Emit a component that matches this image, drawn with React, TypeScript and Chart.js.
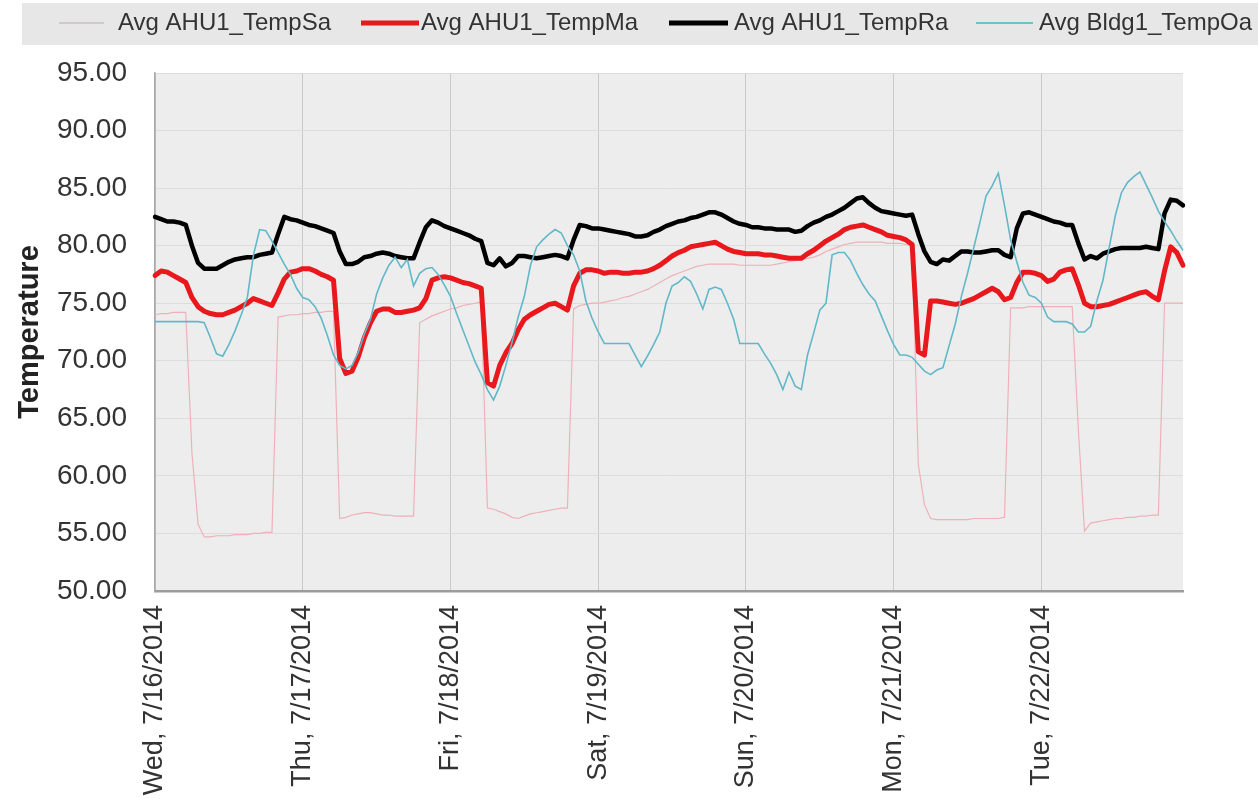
import React, { useEffect, useRef } from "react";
import { Chart, registerables } from "chart.js";

Chart.register(...registerables);

const DAY_LABELS = [
  "Wed, 7/16/2014",
  "Thu, 7/17/2014",
  "Fri, 7/18/2014",
  "Sat, 7/19/2014",
  "Sun, 7/20/2014",
  "Mon, 7/21/2014",
  "Tue, 7/22/2014",
];

const HOURS: string[] = [];
DAY_LABELS.forEach((d) => {
  for (let h = 0; h < 24; h++) HOURS.push(`${d} ${h}:00`);
});

const SERIES_NAMES = ["Avg AHU1_TempSa", "Avg AHU1_TempMa", "Avg AHU1_TempRa", "Avg Bldg1_TempOa"];

const TEMP_SA = [
  74.0, 74.1, 74.1, 74.2, 74.2, 74.2, 62.0, 55.8, 54.7, 54.7, 54.8, 54.8, 54.8, 54.9, 54.9, 54.9, 55.0, 55.0, 55.1, 55.1, 73.8, 73.9, 74.0, 74.0,
  74.1, 74.1, 74.2, 74.2, 74.3, 74.3, 56.3, 56.4, 56.6, 56.7, 56.8, 56.8, 56.7, 56.6, 56.6, 56.5, 56.5, 56.5, 56.5, 73.3, 73.6, 73.9, 74.1, 74.3,
  74.5, 74.6, 74.8, 74.9, 75.0, 75.1, 57.2, 57.1, 56.9, 56.7, 56.4, 56.3, 56.5, 56.7, 56.8, 56.9, 57.0, 57.1, 57.2, 57.2, 74.5, 74.8, 74.9, 75.0,
  75.0, 75.1, 75.2, 75.3, 75.5, 75.6, 75.8, 76.0, 76.2, 76.5, 76.8, 77.1, 77.4, 77.6, 77.8, 78.0, 78.2, 78.3, 78.4, 78.4, 78.4, 78.4, 78.4, 78.3,
  78.3, 78.3, 78.3, 78.3, 78.3, 78.4, 78.5, 78.6, 78.7, 78.8, 78.9, 79.0, 79.2, 79.5, 79.7, 79.9, 80.1, 80.2, 80.3, 80.3, 80.3, 80.3, 80.3, 80.2,
  80.2, 80.2, 80.1, 80.0, 61.0, 57.5, 56.3, 56.2, 56.2, 56.2, 56.2, 56.2, 56.2, 56.3, 56.3, 56.3, 56.3, 56.3, 56.4, 74.6, 74.6, 74.6, 74.7, 74.7,
  74.7, 74.7, 74.7, 74.7, 74.7, 74.7, 64.0, 55.2, 55.9, 56.0, 56.1, 56.2, 56.3, 56.3, 56.4, 56.4, 56.5, 56.5, 56.6, 56.6, 75.0, 75.0, 75.0, 75.0,
];

const TEMP_MA = [
  77.4, 77.8, 77.7, 77.4, 77.1, 76.8, 75.5, 74.7, 74.3, 74.1, 74.0, 74.0, 74.2, 74.4, 74.7, 75.0, 75.4, 75.2, 75.0, 74.8, 75.9, 77.1, 77.7, 77.8,
  78.0, 78.0, 77.8, 77.5, 77.3, 77.0, 70.2, 68.9, 69.1, 70.3, 72.0, 73.3, 74.3, 74.5, 74.5, 74.2, 74.2, 74.3, 74.4, 74.6, 75.4, 77.0, 77.2, 77.3,
  77.2, 77.0, 76.8, 76.7, 76.5, 76.3, 68.1, 67.8, 69.6, 70.7, 71.5, 72.7, 73.6, 74.0, 74.3, 74.6, 74.9, 75.0, 74.7, 74.4, 76.5, 77.6, 77.9, 77.9,
  77.8, 77.6, 77.7, 77.7, 77.6, 77.6, 77.7, 77.7, 77.8, 78.0, 78.3, 78.7, 79.1, 79.4, 79.6, 79.9, 80.0, 80.1, 80.2, 80.3, 80.0, 79.7, 79.5, 79.4,
  79.3, 79.3, 79.3, 79.2, 79.2, 79.1, 79.0, 78.9, 78.9, 78.9, 79.3, 79.6, 80.0, 80.4, 80.7, 81.0, 81.4, 81.6, 81.7, 81.8, 81.6, 81.4, 81.2, 80.9,
  80.8, 80.7, 80.5, 80.1, 70.8, 70.5, 75.2, 75.2, 75.1, 75.0, 74.9, 75.0, 75.2, 75.4, 75.7, 76.0, 76.3, 76.0, 75.3, 75.5, 76.8, 77.7, 77.7, 77.6,
  77.4, 76.9, 77.1, 77.7, 77.9, 78.0, 76.6, 75.0, 74.7, 74.7, 74.8, 74.9, 75.1, 75.3, 75.5, 75.7, 75.9, 76.0, 75.6, 75.3, 77.8, 79.9, 79.4, 78.3,
];

const TEMP_RA = [
  82.5, 82.3, 82.1, 82.1, 82.0, 81.8, 80.0, 78.5, 78.0, 78.0, 78.0, 78.3, 78.6, 78.8, 78.9, 79.0, 79.0, 79.2, 79.3, 79.4, 81.0, 82.5, 82.3, 82.2,
  82.0, 81.8, 81.7, 81.5, 81.3, 81.1, 79.5, 78.4, 78.4, 78.6, 79.0, 79.1, 79.3, 79.4, 79.3, 79.1, 79.0, 78.9, 78.9, 80.3, 81.6, 82.2, 82.0, 81.7,
  81.5, 81.3, 81.1, 80.9, 80.6, 80.4, 78.5, 78.3, 78.9, 78.2, 78.5, 79.1, 79.1, 79.0, 78.9, 79.0, 79.1, 79.2, 79.1, 78.9, 80.5, 81.8, 81.7, 81.5,
  81.5, 81.4, 81.3, 81.2, 81.1, 81.0, 80.8, 80.8, 80.9, 81.2, 81.4, 81.7, 81.9, 82.1, 82.2, 82.4, 82.5, 82.7, 82.9, 82.9, 82.7, 82.4, 82.1, 81.9,
  81.8, 81.6, 81.6, 81.5, 81.5, 81.4, 81.4, 81.4, 81.2, 81.3, 81.7, 82.0, 82.2, 82.5, 82.7, 83.0, 83.3, 83.7, 84.1, 84.2, 83.7, 83.3, 83.0, 82.9,
  82.8, 82.7, 82.6, 82.7, 81.0, 79.5, 78.6, 78.4, 78.8, 78.7, 79.1, 79.5, 79.5, 79.4, 79.4, 79.5, 79.6, 79.6, 79.2, 79.0, 81.5, 82.8, 82.9, 82.7,
  82.5, 82.3, 82.1, 82.0, 81.8, 81.8, 80.2, 78.8, 79.1, 78.9, 79.3, 79.5, 79.7, 79.8, 79.8, 79.8, 79.8, 79.9, 79.8, 79.7, 82.8, 84.0, 83.9, 83.5,
];

const TEMP_OA = [
  73.4, 73.4, 73.4, 73.4, 73.4, 73.4, 73.4, 73.4, 73.3, 72.0, 70.6, 70.4, 71.4, 72.6, 74.0, 75.5, 79.2, 81.4, 81.3, 80.4, 79.4, 78.4, 77.5, 76.3,
  75.5, 75.3, 74.7, 73.7, 72.2, 70.5, 69.6, 69.3, 69.6, 70.7, 72.3, 73.6, 75.8, 77.2, 78.3, 79.0, 78.1, 78.8, 76.5, 77.6, 78.0, 78.1, 77.5, 76.6,
  75.6, 74.1, 72.7, 71.3, 69.9, 68.8, 67.5, 66.6, 67.8, 69.6, 71.6, 73.8, 75.6, 78.3, 79.9, 80.5, 81.0, 81.4, 81.1, 80.0, 79.2, 77.8, 75.2, 73.7,
  72.5, 71.5, 71.5, 71.5, 71.5, 71.5, 70.5, 69.5, 70.4, 71.4, 72.5, 75.0, 76.5, 76.8, 77.3, 76.9, 75.8, 74.5, 76.2, 76.4, 76.2, 75.0, 73.6, 71.5,
  71.5, 71.5, 71.5, 70.6, 69.8, 68.8, 67.5, 69.0, 67.8, 67.5, 70.5, 72.4, 74.4, 75.0, 79.2, 79.4, 79.4, 78.7, 77.6, 76.6, 75.8, 75.2, 73.9, 72.6,
  71.4, 70.5, 70.5, 70.3, 69.7, 69.1, 68.8, 69.2, 69.4, 71.3, 73.2, 75.6, 77.6, 79.8, 82.0, 84.3, 85.2, 86.3, 83.5, 80.5, 78.6, 76.8, 75.7, 75.5,
  75.0, 73.8, 73.4, 73.4, 73.4, 73.2, 72.5, 72.5, 73.0, 75.2, 77.0, 79.8, 82.6, 84.6, 85.5, 86.0, 86.4, 85.3, 84.2, 83.0, 82.1, 81.3, 80.4, 79.6,
];

const Y_MIN = 50;
const Y_MAX = 95;
const Y_STEP = 5;

const FONT = "'Liberation Sans', Arial, sans-serif";

const plotBackground = {
  id: "plotBackground",
  beforeDraw(chart: any) {
    const { ctx, chartArea } = chart;
    ctx.save();
    ctx.fillStyle = "#ededed";
    ctx.fillRect(chartArea.left, chartArea.top, chartArea.right - chartArea.left, chartArea.bottom - chartArea.top);
    ctx.restore();
  },
};

const LEGEND_LAYOUT = [
  { lineX: 59, lineW: 45, textX: 118, sampleColor: "#cfc9c9", sampleW: 2 },
  { lineX: 361, lineW: 58, textX: 421, sampleColor: "#e41a1c", sampleW: 5 },
  { lineX: 669, lineW: 59, textX: 734, sampleColor: "#000000", sampleW: 5 },
  { lineX: 976, lineW: 57, textX: 1039, sampleColor: "#6cc0cf", sampleW: 2 },
];

const legendBand = {
  id: "legendBand",
  beforeDraw(chart: any) {
    const { ctx } = chart;
    ctx.save();
    ctx.fillStyle = "#e7e7e7";
    ctx.fillRect(22, 3, 1236, 42);
    ctx.textBaseline = "middle";
    ctx.textAlign = "left";
    ctx.font = `24px ${FONT}`;
    const cy = 23;
    chart.data.datasets.forEach((ds: any, i: number) => {
      const l = LEGEND_LAYOUT[i];
      ctx.strokeStyle = l.sampleColor;
      ctx.lineWidth = l.sampleW;
      ctx.lineCap = "butt";
      ctx.beginPath();
      ctx.moveTo(l.lineX, cy);
      ctx.lineTo(l.lineX + l.lineW, cy);
      ctx.stroke();
      ctx.fillStyle = "#333333";
      ctx.fillText(ds.label, l.textX, cy);
    });
    ctx.restore();
  },
};

export default function App() {
  const canvasRef = useRef<HTMLCanvasElement | null>(null);

  useEffect(() => {
    if (!canvasRef.current) return;
    const chart = new Chart(canvasRef.current, {
      type: "line",
      data: {
        labels: HOURS,
        datasets: [
          {
            label: SERIES_NAMES[0],
            data: TEMP_SA,
            borderColor: "#eeb1b8",
            borderWidth: 1.2,
            pointRadius: 0,
            tension: 0,
            order: 4,
          },
          {
            label: SERIES_NAMES[1],
            data: TEMP_MA,
            borderColor: "#e8181c",
            borderWidth: 5,
            pointRadius: 0,
            tension: 0,
            borderJoinStyle: "round",
            borderCapStyle: "round",
            order: 3,
          },
          {
            label: SERIES_NAMES[2],
            data: TEMP_RA,
            borderColor: "#000000",
            borderWidth: 4.5,
            pointRadius: 0,
            tension: 0,
            borderJoinStyle: "round",
            borderCapStyle: "round",
            order: 2,
          },
          {
            label: SERIES_NAMES[3],
            data: TEMP_OA,
            borderColor: "#62b8c8",
            borderWidth: 1.6,
            pointRadius: 0,
            tension: 0,
            order: 1,
          },
        ],
      },
      options: {
        animation: false,
        responsive: false,
        devicePixelRatio: 1,
        layout: { padding: { top: 73, right: 75, left: 0, bottom: 0 } },
        plugins: {
          legend: { display: false },
          tooltip: { enabled: false },
        },
        scales: {
          x: {
            type: "category",
            offset: false,
            afterBuildTicks: (scale: any) => {
              scale.ticks = scale.ticks.filter((t: any) => t.value % 24 === 0);
            },
            afterFit: (scale: any) => {
              scale.height = 208;
            },
            ticks: {
              autoSkip: false,
              maxRotation: 90,
              minRotation: 90,
              padding: 14,
              color: "#333333",
              font: { family: FONT, size: 27 },
              callback: (v: any) => DAY_LABELS[Math.round(Number(v) / 24)],
            },
            grid: { color: "#c9c9c9", lineWidth: 1, drawTicks: false },
            border: { display: true, color: "#9c9c9c", width: 2.5 },
          },
          y: {
            min: Y_MIN,
            max: Y_MAX,
            afterFit: (scale: any) => {
              scale.width = 155;
            },
            ticks: {
              stepSize: Y_STEP,
              padding: 28,
              color: "#333333",
              font: { family: FONT, size: 28 },
              callback: (v: any) => Number(v).toFixed(2),
            },
            grid: { color: "#dcdcdc", lineWidth: 1, drawTicks: false },
            border: { display: true, color: "#a8a8a8", width: 1.5 },
            title: {
              display: true,
              text: "Temperature",
              color: "#222222",
              font: { family: FONT, size: 29, weight: "bold" },
              padding: { top: 13, bottom: 0 },
            },
          },
        },
      },
      plugins: [plotBackground, legendBand],
    });
    return () => chart.destroy();
  }, []);

  return (
    <div style={{ position: "absolute", left: 0, top: 0, width: 1258, height: 799, background: "#ffffff" }}>
      <canvas ref={canvasRef} width={1258} height={799} style={{ display: "block" }} />
    </div>
  );
}
